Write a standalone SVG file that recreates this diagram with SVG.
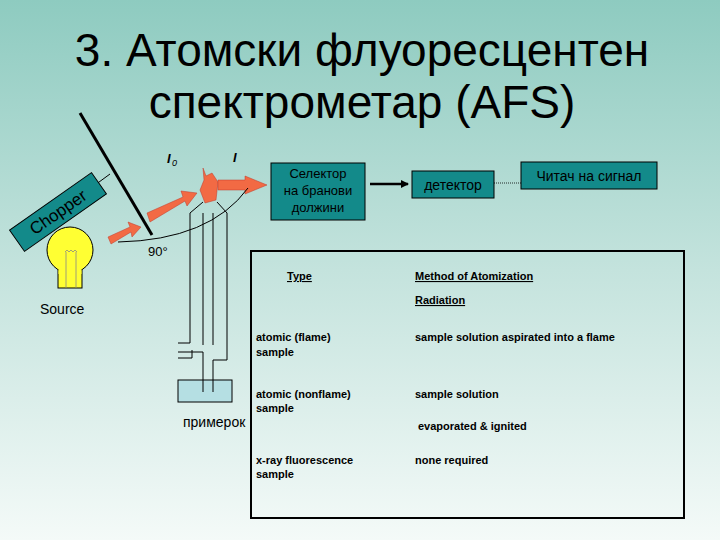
<svg xmlns="http://www.w3.org/2000/svg" width="720" height="540" viewBox="0 0 720 540">
<defs>
<linearGradient id="bg" x1="0" y1="0" x2="0" y2="1">
<stop offset="0" stop-color="#8ecbc0"/><stop offset="0.5" stop-color="#c4e3dd"/><stop offset="1" stop-color="#f4faf8"/>
</linearGradient>
<marker id="ah" markerWidth="8" markerHeight="8" refX="7" refY="4" orient="auto" markerUnits="userSpaceOnUse"><path d="M0,0 L8,4 L0,8 z" fill="#000"/></marker>
<style>
.box{fill:#138a8a;stroke:#000;stroke-width:1}
.t{font-family:"Liberation Sans",Arial,sans-serif;fill:#000}
.tb{font-family:"Liberation Sans",Arial,sans-serif;font-weight:bold;font-size:11px;fill:#000}
.ln{stroke:#000;fill:none;stroke-width:1}
.ra{fill:#f26a44;stroke:#c0392b;stroke-width:0.5}
</style>
</defs>
<rect width="720" height="540" fill="url(#bg)"/>
<g id="title" class="t" font-size="46" text-anchor="middle">
<text x="362" y="66">3. Атомски флуоресцентен</text>
<text x="362" y="118">спектрометар (AFS)</text>
</g>
<g id="mirror"><line x1="80" y1="113" x2="152" y2="235" stroke="#000" stroke-width="3"/><line x1="95" y1="185" x2="110" y2="174" class="ln"/></g>
<g id="chopper" transform="translate(58,212) rotate(-35)"><rect x="-50" y="-13" width="100" height="26" class="box"/><text x="0" y="6" text-anchor="middle" class="t" font-size="17">Chopper</text></g>
<g id="source">
<rect x="58" y="262" width="24" height="26" fill="#ffff33" stroke="#000"/>
<circle cx="70" cy="250" r="23" fill="#ffff33" stroke="#000"/>
<rect x="58.5" y="266" width="23" height="8" fill="#ffff33"/>
<path d="M66,252 V288 M76,252 V288" stroke="#888" stroke-width="0.8"/>
<path d="M65,252 l2,-2 2,2 2,-2 2,2 2,-2 2,2" stroke="#888" fill="none" stroke-width="0.8"/>
<text x="40" y="314" class="t" font-size="14">Source</text>
</g>
<g id="beam">
<polygon class="ra" points="108,237 130,227 128,222 141,227 132,237 131,232 111,244"/>
<polygon class="ra" points="147,213 183,197 181,191 197,193 187,206 185,201 150,222"/>
<polygon class="ra" points="203,168 206,176 212,173 218,182 216,200 205,203 200,190 204,180"/>
<polygon class="ra" points="218,180 245,180 245,176 267,185 245,194 245,190 218,190"/>
<path d="M118,242 Q210,240 248,188" class="ln"/>
<text x="167" y="163" class="t" font-size="13" font-style="italic" font-weight="bold">I</text><text x="172" y="166" class="t" font-size="9" font-style="italic">0</text>
<text x="233" y="162" class="t" font-size="13" font-style="italic" font-weight="bold">I</text>
<text x="148" y="256" class="t" font-size="13">90°</text>
</g>
<g id="burner">
<rect x="178" y="380" width="54" height="22" fill="#b5dfe3" stroke="#000"/>
<path d="M190,343 V213 L203,202 M217,202 L227,213 V360 H213 V392 M203,392 V352 H178 M178,343 H190 M192,358 H178 M192,350 V358" class="ln"/>
<path d="M203,345 V213 M213,345 V213" class="ln"/>
<text x="183" y="427" class="t" font-size="14">примерок</text>
</g>
<g id="selector"><rect x="271" y="163" width="94" height="57" class="box"/><text class="t" font-size="13" text-anchor="middle"><tspan x="318" y="178">Селектор</tspan><tspan x="318" y="195">на бранови</tspan><tspan x="318" y="212">должини</tspan></text></g>
<g id="detector"><rect x="412" y="171" width="82" height="27" class="box"/><text x="453" y="190" class="t" font-size="14" text-anchor="middle">детектор</text></g>
<g id="reader"><rect x="521" y="162" width="136" height="27" class="box"/><text x="589" y="181" class="t" font-size="14" text-anchor="middle">Читач на сигнал</text></g>
<g id="connectors">
<line x1="370" y1="184" x2="408" y2="184" stroke="#000" stroke-width="2.5" marker-end="url(#ah)"/>
<line x1="494" y1="183" x2="521" y2="183" stroke="#000" stroke-width="0.8" stroke-dasharray="1,1"/>
</g>
<g id="table">
<rect x="251" y="251" width="433" height="267" fill="none" stroke="#000" stroke-width="2"/>
<text x="287" y="280" class="tb" text-decoration="underline">Type</text>
<text x="415" y="280" class="tb" text-decoration="underline">Method of Atomization</text>
<text x="415" y="304" class="tb" text-decoration="underline">Radiation</text>
<text class="tb"><tspan x="256" y="341">atomic (flame)</tspan><tspan x="256" y="356">sample</tspan></text>
<text x="415" y="341" class="tb">sample solution aspirated into a flame</text>
<text class="tb"><tspan x="256" y="398">atomic (nonflame)</tspan><tspan x="256" y="412">sample</tspan></text>
<text x="415" y="398" class="tb">sample solution</text>
<text x="418" y="430" class="tb">evaporated &amp; ignited</text>
<text class="tb"><tspan x="256" y="464">x-ray fluorescence</tspan><tspan x="256" y="478">sample</tspan></text>
<text x="415" y="464" class="tb">none required</text>
</g>
</svg>
